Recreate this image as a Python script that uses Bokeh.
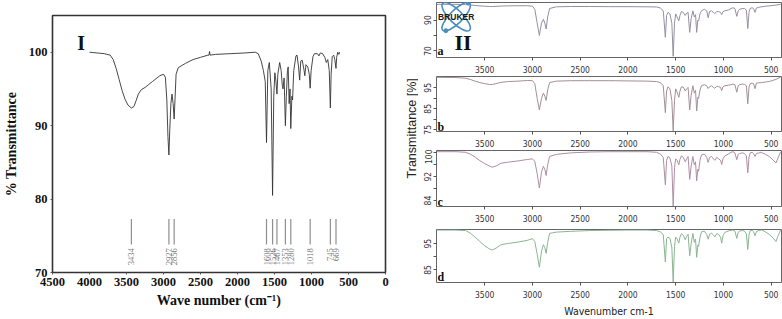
from math import pi
from bokeh.plotting import figure
from bokeh.models import Range1d, FixedTicker, Label
from bokeh.layouts import row, column
from bokeh.embed import file_html
from bokeh.resources import INLINE

# ---------------- Panel I : FTIR spectrum ----------------
wn_I = [4000, 3900, 3800, 3720, 3680, 3640, 3600, 3560, 3520, 3480, 3434, 3400, 3370,
        3340, 3300, 3250, 3200, 3150, 3100, 3050, 3000, 2975, 2955, 2940, 2927, 2915,
        2900, 2885, 2870, 2856, 2845, 2830, 2800, 2700, 2600, 2500, 2400, 2385, 2378,
        2370, 2300, 2100, 1900, 1760, 1720, 1680, 1650, 1625, 1608, 1590, 1570, 1545,
        1526, 1510, 1495, 1480, 1467, 1455, 1430, 1410, 1395, 1385, 1370, 1353, 1340,
        1325, 1315, 1302, 1290, 1280, 1265, 1256, 1240, 1210, 1195, 1175, 1160, 1145,
        1125, 1100, 1090, 1075, 1050, 1030, 1018, 1005, 980, 960, 920, 900, 880, 850,
        820, 800, 780, 760, 745, 735, 720, 700, 685, 669, 660, 645, 630, 620]
tr_I = [100.0, 99.9, 99.8, 99.6, 99.0, 97.8, 96.3, 94.8, 93.6, 92.8, 92.4, 92.6, 93.4,
        94.3, 94.9, 95.2, 95.6, 96.0, 96.4, 96.8, 97.0, 96.6, 93.5, 88.5, 86.0, 89.5,
        93.0, 94.3, 93.0, 90.9, 93.5, 97.0, 97.9, 98.5, 99.0, 99.3, 99.6, 99.6, 100.1,
        99.6, 99.7, 99.8, 99.9, 100.0, 99.8, 98.8, 97.5, 96.0, 87.7, 97.5, 98.6, 95.0,
        80.5, 94.0, 97.2, 96.0, 94.3, 97.0, 98.6, 97.5, 95.5, 95.0, 96.5, 90.0, 94.0,
        97.5, 98.0, 93.0, 95.0, 89.6, 94.0, 93.5, 97.5, 99.5, 99.6, 98.0, 96.2, 98.8,
        98.9, 97.5, 96.8, 98.3, 98.0, 97.0, 95.1, 97.5, 99.4, 99.8, 99.8, 99.5, 99.9, 99.8,
        99.3, 98.6, 99.0, 97.5, 92.4, 97.0, 99.4, 99.6, 99.0, 97.8, 99.3, 100.0, 99.7, 100.0]
peak_wn = [3434, 2927, 2856, 1608, 1526, 1467, 1353, 1280, 1018, 745, 669]
peak_labels = [str(v) for v in peak_wn]
x_ticks_I = [0, 500, 1000, 1500, 2000, 2500, 3000, 3500, 4000, 4500]
y_ticks_I = [70, 80, 90, 100]

# ---------------- Panel II : four spectra a-d ----------------
wn_II = [4000, 3800, 3700, 3650, 3600, 3550, 3500, 3450, 3420, 3380, 3330, 3250, 3150,
         3050, 3000, 2975, 2950, 2927, 2905, 2885, 2870, 2856, 2840, 2820, 2750, 2600,
         2400, 2200, 2000, 1800, 1700, 1660, 1630, 1608, 1595, 1580, 1560, 1540, 1526,
         1512, 1500, 1485, 1467, 1455, 1440, 1420, 1400, 1385, 1370, 1353, 1338, 1320,
         1305, 1292, 1280, 1268, 1260, 1245, 1230, 1200, 1175, 1160, 1145, 1125, 1105,
         1090, 1070, 1050, 1030, 1018, 1005, 985, 950, 920, 900, 880, 860, 845, 830, 800,
         780, 760, 745, 732, 720, 700, 685, 669, 655, 630, 600, 560, 520, 480, 450, 430, 400]
tr_a = [100.2, 100.2, 100.0, 99.8, 99.5, 99.2, 99.0, 98.8, 98.8, 98.9, 99.1, 99.2, 99.3,
        99.3, 99.0, 97.0, 88.0, 80.0, 88.0, 90.5, 88.0, 84.2, 92.0, 97.5, 98.6, 98.8,
        98.8, 98.7, 98.7, 98.6, 98.5, 97.8, 96.0, 78.8, 93.0, 95.0, 94.0, 88.0, 66.5,
        88.0, 94.0, 92.0, 89.5, 93.0, 95.5, 95.0, 93.0, 94.5, 95.0, 82.0, 91.0, 96.0,
        92.0, 93.5, 82.0, 90.0, 89.5, 94.0, 96.0, 97.0, 96.0, 91.5, 95.5, 96.0, 95.0,
        94.3, 95.5, 95.5, 95.0, 93.5, 95.5, 96.0, 96.5, 97.5, 98.0, 97.5, 92.4, 96.0, 97.0, 97.5,
        97.5, 96.5, 84.5, 95.0, 97.5, 98.0, 97.5, 95.0, 97.8, 98.3, 98.6, 99.0, 99.2, 99.5, 99.7, 99.9, 100.3]
tr_b = [100.0, 99.9, 99.6, 99.0, 98.2, 97.5, 97.0, 96.6, 96.6, 97.0, 97.6, 98.0, 98.2,
        98.5, 98.4, 97.0, 90.0, 84.5, 90.0, 92.5, 91.0, 89.0, 94.0, 97.5, 98.2, 98.4,
        98.4, 98.4, 98.3, 98.2, 98.0, 97.5, 96.0, 83.2, 93.5, 95.5, 94.5, 89.0, 74.5,
        89.0, 94.5, 93.0, 90.5, 93.5, 95.5, 95.3, 93.5, 94.5, 95.2, 84.5, 91.5, 96.0,
        92.5, 93.8, 84.0, 90.5, 90.0, 94.0, 96.0, 96.5, 96.0, 94.7, 95.5, 96.0, 95.2,
        94.8, 95.8, 95.5, 95.3, 93.7, 95.5, 96.0, 96.2, 96.5, 96.8, 96.5, 92.9, 96.0, 96.5, 96.8,
        96.7, 96.0, 87.4, 95.5, 97.0, 97.2, 97.0, 94.6, 97.3, 97.4, 97.5, 97.8, 98.0, 98.6, 99.0, 99.5, 100.2]
tr_c = [100.4, 100.4, 100.2, 99.6, 98.6, 97.4, 96.4, 95.6, 95.2, 95.6, 96.5, 96.9, 97.3,
        97.8, 98.0, 97.2, 93.0, 88.2, 93.5, 95.5, 94.5, 92.4, 96.0, 98.8, 99.5, 100.0,
        100.3, 100.4, 100.4, 100.4, 100.2, 99.6, 98.5, 89.3, 97.5, 98.8, 98.3, 95.5, 82.2,
        95.0, 98.0, 97.5, 96.0, 97.8, 99.0, 98.5, 97.0, 98.0, 98.8, 91.1, 95.5, 98.8,
        96.0, 97.0, 90.6, 94.5, 93.8, 97.5, 99.3, 99.6, 98.5, 96.8, 98.5, 98.8, 98.0,
        97.5, 98.5, 98.0, 97.5, 96.1, 98.0, 99.0, 99.6, 100.2, 100.4, 100.0, 97.7, 99.5, 99.8, 100.0,
        99.8, 99.0, 93.3, 98.5, 100.0, 100.2, 99.8, 98.8, 99.8, 100.0, 100.1, 99.5, 98.8, 97.6, 96.6, 98.2, 100.4]
tr_d = [100.2, 100.2, 100.0, 99.0, 97.5, 95.8, 94.2, 93.0, 92.6, 93.3, 94.6, 95.1, 95.6,
        96.3, 96.9, 95.8, 91.0, 86.0, 92.0, 94.6, 93.5, 91.3, 95.5, 98.9, 99.4, 99.7,
        100.0, 100.1, 100.2, 100.2, 100.0, 99.5, 98.5, 88.0, 97.0, 97.5, 97.0, 93.5, 80.4,
        94.0, 97.5, 96.8, 95.2, 97.5, 98.8, 98.2, 96.5, 97.8, 98.6, 90.4, 95.0, 98.9,
        95.5, 96.8, 89.8, 94.5, 94.0, 97.5, 99.5, 99.8, 98.5, 96.7, 98.6, 99.0, 98.3,
        97.6, 98.8, 98.5, 97.5, 95.2, 98.0, 99.3, 99.8, 100.1, 100.2, 99.8, 97.0, 99.4, 99.8, 100.0,
        99.8, 98.8, 92.8, 98.5, 99.9, 100.1, 99.6, 98.0, 99.6, 100.0, 100.2, 99.5, 98.5, 97.2, 95.8, 97.8, 100.3]
x_ticks_II = [500, 1000, 1500, 2000, 2500, 3000, 3500]

SERIF = "Liberation Serif, Times New Roman, serif"
NARROW = "Liberation Sans Narrow, DejaVu Sans Condensed, Arial Narrow, sans-serif"
SANS = "Liberation Sans, Arial, sans-serif"

# ---------- Panel I figure ----------
pI = figure(width=390, height=319, x_range=Range1d(4500, 0), y_range=Range1d(70, 105),
            output_backend="svg", toolbar_location=None,
            min_border_left=47, min_border_right=5, min_border_top=15, min_border_bottom=47)
pI.grid.visible = False
pI.outline_line_color = "#333333"
pI.outline_line_width = 1.6
pI.background_fill_color = "white"
pI.border_fill_color = "white"
pI.line(wn_I, tr_I, line_color="#333333", line_width=0.9)
pI.segment(x0=peak_wn, y0=73.8, x1=peak_wn, y1=77.3, line_color="#8f8f8f", line_width=1.2)
pI.text(x=peak_wn, y=73.3, text=peak_labels, angle=pi / 2, text_align="right",
        text_baseline="middle", text_font_size="8.5px", text_color="#777777",
        text_font={"value": SERIF})
for ax in (pI.xaxis[0], pI.yaxis[0]):
    ax.axis_line_color = None
    ax.minor_tick_line_color = None
    ax.major_tick_in = 0
    ax.major_tick_out = 2
    ax.major_tick_line_color = "#555555"
    ax.major_label_text_font = SERIF
    ax.major_label_text_font_style = "bold"
    ax.major_label_text_font_size = "12.5px"
    ax.major_label_text_color = "#111111"
    ax.major_label_standoff = 3
    ax.axis_label_text_font = SERIF
    ax.axis_label_text_font_style = "bold"
    ax.axis_label_text_font_size = "14px"
    ax.axis_label_text_color = "#111111"
pI.xaxis.axis_label_standoff = 4
pI.yaxis.axis_label_standoff = 7
pI.xaxis.ticker = FixedTicker(ticks=x_ticks_I)
pI.yaxis.ticker = FixedTicker(ticks=y_ticks_I)
pI.xaxis.axis_label = "Wave number (cm\u207b\u00b9)"
pI.yaxis.axis_label = "% Transmittance"
pI.add_layout(Label(x=4114, y=101.2, text="I", text_font=SERIF, text_font_style="bold",
                    text_font_size="20px", text_align="center", text_baseline="middle",
                    text_color="#111111"))

# ---------- shared y-label of panel II ----------
pL = figure(width=28, height=319, x_range=Range1d(0, 28), y_range=Range1d(0, 319),
            x_axis_type=None, y_axis_type=None, min_border=0,
            output_backend="svg", toolbar_location=None)
pL.outline_line_color = None
pL.grid.visible = False
pL.add_layout(Label(x=21, y=179, text="Transmittance [%]", angle=pi / 2, text_align="center",
                    text_baseline="middle", text_font=SANS, text_font_size="12.5px",
                    text_color="#222222"))

# ---------- Panel II figures ----------
xr = Range1d(4004, 392)


def make_panel(tr, y0, y1, yticks, blank, h, top, bottom, color, letter, letter_y):
    p = figure(width=364, height=h, x_range=xr, y_range=Range1d(y0, y1),
               output_backend="svg", toolbar_location=None,
               min_border_left=18, min_border_right=1, min_border_top=top, min_border_bottom=bottom)
    p.grid.visible = False
    p.outline_line_color = "#666666"
    p.outline_line_width = 1
    p.line(wn_II, tr, line_color=color, line_width=1.0)
    for ax in (p.xaxis[0], p.yaxis[0]):
        ax.axis_line_color = None
        ax.minor_tick_line_color = None
        ax.major_tick_in = 0
        ax.major_tick_out = 3
        ax.major_tick_line_color = "#555555"
        ax.major_label_text_font = NARROW
        ax.major_label_text_font_size = "8.5px"
        ax.major_label_text_color = "#333333"
    p.xaxis.ticker = FixedTicker(ticks=x_ticks_II)
    p.xaxis.major_label_standoff = 5
    p.yaxis.ticker = FixedTicker(ticks=yticks)
    p.yaxis.major_label_overrides = {t: "" for t in blank}
    p.yaxis.major_label_orientation = "vertical"
    p.yaxis.major_label_standoff = 2
    p.add_layout(Label(x=3993, y=letter_y, text=letter, text_font=SERIF, text_font_style="bold",
                       text_font_size="12px", text_align="left", text_baseline="middle",
                       text_color="#111111"))
    return p


pa = make_panel(tr_a, 65.7, 101.4, [70, 80, 90], [80], 75, 2, 18, "#958fa2", "a", 70.2)
pb = make_panel(tr_b, 74.2, 100.4, [75, 80, 85, 90, 95], [80, 90], 74, 1, 18, "#a38e98", "b", 76.3)
pc = make_panel(tr_c, 82.0, 100.8, [84, 88, 92, 96, 100], [88, 96], 79, 1, 22, "#ad8ea3", "c", 83.6)
pd = make_panel(tr_d, 80.2, 100.4, [85, 90, 95], [90], 91, 1, 34, "#8ab492", "d", 82.4)
pd.xaxis.axis_label = "Wavenumber cm-1"
pd.xaxis.axis_label_text_font = NARROW
pd.xaxis.axis_label_text_font_style = "normal"
pd.xaxis.axis_label_text_font_size = "10.5px"
pd.xaxis.axis_label_text_color = "#222222"
pd.xaxis.axis_label_standoff = 4

# BRUKER logo and panel mark in panel a
span_x = xr.start - xr.end
lx = xr.start - 0.057 * span_x
ly = 65.7 + 0.74 * (101.4 - 65.7)
pa.ellipse(x=[lx, lx], y=[ly, ly], width=38, height=13, width_units="screen",
           height_units="screen", angle=[pi / 4, -pi / 4], fill_color=None,
           line_color="#4a8fc0", line_width=1.6)
pa.scatter(x=[lx - 0.035 * span_x, lx + 0.03 * span_x], y=[ly + 9, ly - 9], size=4,
           color="#4a8fc0")
pa.add_layout(Label(x=lx, y=ly, text="BRUKER", text_font=SANS, text_font_style="bold",
                    text_font_size="8.5px", text_align="center", text_baseline="middle",
                    text_color="#1a1a1a"))
pa.add_layout(Label(x=xr.start - 0.077 * span_x, y=75.4, text="II", text_font=SERIF,
                    text_font_style="bold", text_font_size="22px", text_align="center",
                    text_baseline="middle", text_color="#111111"))

layout = row(pI, pL, column(pa, pb, pc, pd, spacing=0), spacing=0)
open("out.html", "w").write(file_html(layout, INLINE))
